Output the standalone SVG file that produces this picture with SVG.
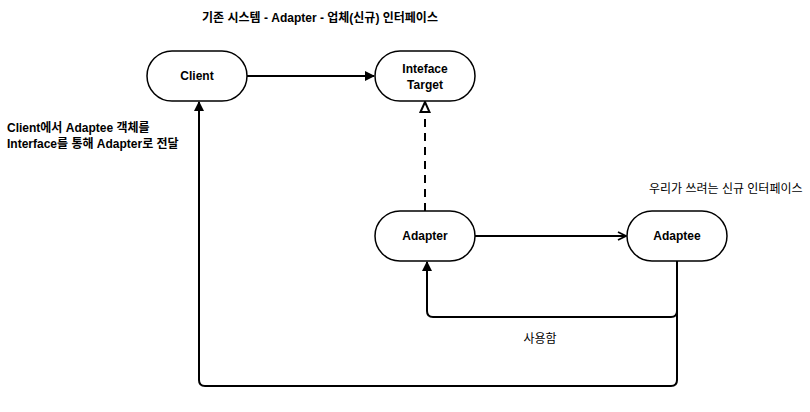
<svg xmlns="http://www.w3.org/2000/svg" width="810" height="412" viewBox="0 0 810 412">
<style>
.node{fill:#fff;stroke:#000;stroke-width:1.5}
.t{font-family:"Liberation Sans","Noto Sans CJK KR",sans-serif;font-size:12px;fill:#000}
.b{font-weight:bold}
.c{fill:none;stroke:#000;stroke-width:2}
</style>
<defs>
<marker id="fill" markerWidth="10" markerHeight="10" refX="9" refY="5" orient="auto" markerUnits="userSpaceOnUse" viewBox="0 0 10 10"><path d="M0,0 L10,5 L0,10 Z" fill="#000"/></marker>
<marker id="hollow" markerWidth="12" markerHeight="12" refX="11" refY="6" orient="auto" markerUnits="userSpaceOnUse" viewBox="0 0 12 12"><path d="M1,1.5 L11,6 L1,10.5 Z" fill="#fff" stroke="#000" stroke-width="2"/></marker>
<marker id="open" markerWidth="10" markerHeight="10" refX="9" refY="5" orient="auto" markerUnits="userSpaceOnUse" viewBox="0 0 10 10"><path d="M1,1 L9,5 L1,9" fill="none" stroke="#000" stroke-width="1.8"/></marker>
</defs>
<text class="t b" x="320" y="22" text-anchor="middle">기존 시스템 - Adapter - 업체(신규) 인터페이스</text>
<text class="t b" x="7" y="132">Client에서 Adaptee 객체를</text>
<text class="t b" x="7" y="148">Interface를 통해 Adapter로 전달</text>
<text class="t" x="649" y="193">우리가 쓰려는 신규 인터페이스</text>
<text class="t" x="540" y="343" text-anchor="middle">사용함</text>
<g id="connectors">
<path class="c" d="M247,76 L374,76" marker-end="url(#fill)"/>
<path class="c" d="M425,211 L425,102" stroke-dasharray="8,6" marker-end="url(#hollow)"/>
<path class="c" d="M475,236 L626,236" stroke-width="1.5" marker-end="url(#open)"/>
<path class="c" d="M677,261 L677,311 Q677,317 671,317 L433,317 Q427,317 427,311 L427,262" marker-end="url(#fill)"/>
<path class="c" d="M677,261 L677,380 Q677,386 671,386 L205,386 Q199,386 199,380 L199,102" marker-end="url(#fill)"/>
</g>
<g id="client"><rect class="node" x="147" y="51" width="100" height="50" rx="25"/><text class="t b" x="197" y="80" text-anchor="middle">Client</text></g>
<g id="target"><rect class="node" x="375" y="51" width="100" height="50" rx="25"/><text class="t b" x="425" y="73" text-anchor="middle">Inteface</text><text class="t b" x="425" y="89" text-anchor="middle">Target</text></g>
<g id="adapter"><rect class="node" x="375" y="211" width="100" height="50" rx="25"/><text class="t b" x="425" y="240" text-anchor="middle">Adapter</text></g>
<g id="adaptee"><rect class="node" x="627" y="211" width="100" height="50" rx="25"/><text class="t b" x="677" y="240" text-anchor="middle">Adaptee</text></g>
</svg>
